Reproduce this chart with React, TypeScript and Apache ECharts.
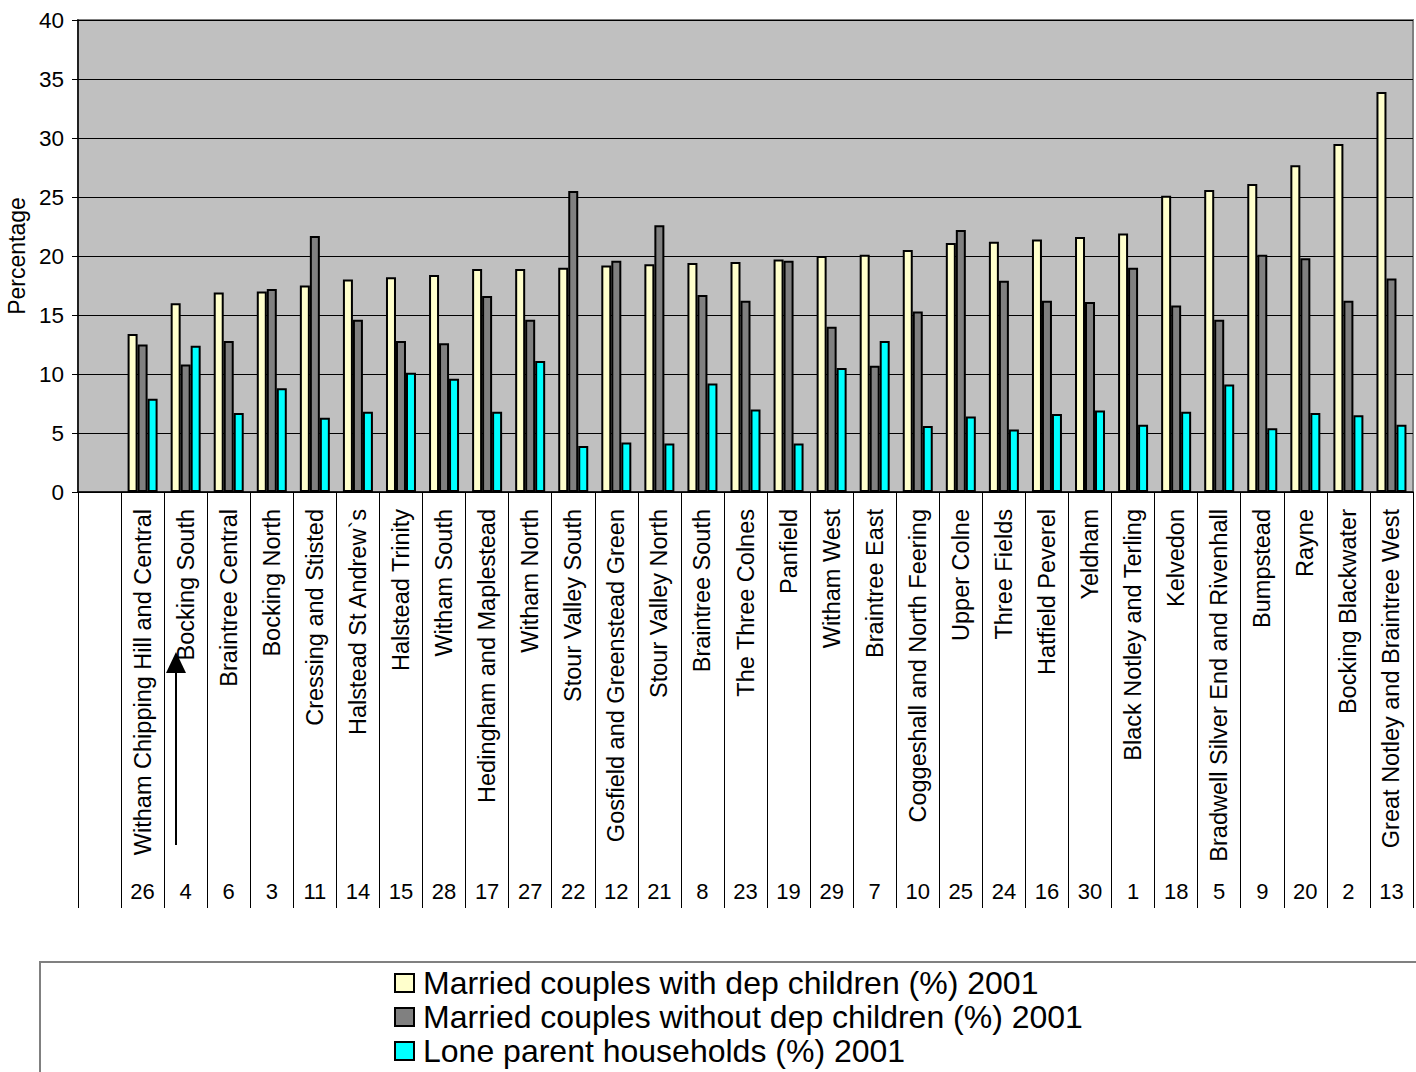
import React, { useEffect, useRef } from "react";
import * as echarts from "echarts";

const wards = [
  "Witham Chipping Hill and Central", "Bocking South", "Braintree Central", "Bocking North",
  "Cressing and Stisted", "Halstead St Andrew`s", "Halstead Trinity", "Witham South",
  "Hedingham and Maplestead", "Witham North", "Stour Valley South", "Gosfield and Greenstead Green",
  "Stour Valley North", "Braintree South", "The Three Colnes", "Panfield", "Witham West",
  "Braintree East", "Coggeshall and North Feering", "Upper Colne", "Three Fields",
  "Hatfield Peverel", "Yeldham", "Black Notley and Terling", "Kelvedon",
  "Bradwell Silver End and Rivenhall", "Bumpstead", "Rayne", "Bocking Blackwater",
  "Great Notley and Braintree West",
];
const wardNumbers = [
  "26", "4", "6", "3", "11", "14", "15", "28", "17", "27", "22", "12", "21", "8", "23",
  "19", "29", "7", "10", "25", "24", "16", "30", "1", "18", "5", "9", "20", "2", "13",
];
const withDepChildren = [
  13.4, 16.0, 16.9, 17.0, 17.5, 18.0, 18.2, 18.4, 18.9, 18.9, 19.0, 19.2, 19.3, 19.4, 19.5,
  19.7, 20.0, 20.1, 20.5, 21.1, 21.2, 21.4, 21.6, 21.9, 25.1, 25.6, 26.1, 27.7, 29.5, 33.9,
];
const withoutDepChildren = [
  12.5, 10.8, 12.8, 17.2, 21.7, 14.6, 12.8, 12.6, 16.6, 14.6, 25.5, 19.6, 22.6, 16.7, 16.2,
  19.6, 14.0, 10.7, 15.3, 22.2, 17.9, 16.2, 16.1, 19.0, 15.8, 14.6, 20.1, 19.8, 16.2, 18.1,
];
const loneParent = [
  7.9, 12.4, 6.7, 8.8, 6.3, 6.8, 10.1, 9.6, 6.8, 11.1, 3.9, 4.2, 4.1, 9.2, 7.0,
  4.1, 10.5, 12.8, 5.6, 6.4, 5.3, 6.6, 6.9, 5.7, 6.8, 9.1, 5.4, 6.7, 6.5, 5.7,
];
const seriesNames = [
  "Married couples with dep children (%) 2001",
  "Married couples without dep children (%) 2001",
  "Lone parent households (%) 2001",
];
const seriesColors = ["#FFFFCC", "#808080", "#00FFFF"];

const FONT = "'Liberation Sans', Arial, sans-serif";

export default function App() {
  const ref = useRef<HTMLDivElement>(null);
  useEffect(() => {
    if (!ref.current) return;
    const chart = echarts.init(ref.current, null, { renderer: "svg" });
    const cats = ["", ...wards];
    const nums = ["", ...wardNumbers];
    const pad = (arr: number[]) => [null, ...arr];
    const dataSets = [withDepChildren, withoutDepChildren, loneParent];
    chart.setOption({
      animation: false,
      backgroundColor: "#ffffff",
      textStyle: { fontFamily: FONT },
      grid: {
        left: 78,
        right: 3,
        top: 20,
        bottom: 580,
        outerBoundsMode: "none",
        containLabel: false,
        show: true,
        backgroundColor: "#C0C0C0",
        borderColor: "#808080",
        borderWidth: 2,
      },
      legend: {
        orient: "vertical",
        left: 394,
        top: 966,
        padding: 0,
        itemGap: 0,
        itemWidth: 19,
        itemHeight: 18,
        icon: "rect",
        itemStyle: { borderColor: "#000", borderWidth: 2 },
        textStyle: {
          fontFamily: FONT,
          fontSize: 32,
          color: "#000",
          lineHeight: 34,
          padding: [0, 0, 0, 4],
        },
        data: seriesNames,
      },
      xAxis: [
        {
          type: "category",
          data: cats,
          position: "bottom",
          axisLine: { lineStyle: { color: "#000", width: 1.5 } },
          axisTick: { show: true, length: 416, lineStyle: { color: "#000", width: 1 } },
          axisLabel: {
            rotate: 90,
            interval: 0,
            margin: 17,
            fontSize: 23.5,
            color: "#000",
            fontFamily: FONT,
          },
          splitLine: { show: false },
        },
        {
          type: "category",
          data: nums,
          position: "bottom",
          offset: 380,
          axisLine: { show: false },
          axisTick: { show: false },
          axisLabel: {
            interval: 0,
            margin: 8,
            fontSize: 22,
            color: "#000",
            fontFamily: FONT,
          },
        },
      ],
      yAxis: {
        type: "value",
        min: 0,
        max: 40,
        interval: 5,
        name: "Percentage",
        nameLocation: "middle",
        nameRotate: 90,
        nameGap: 50,
        nameTextStyle: { fontSize: 23, color: "#000", fontFamily: FONT },
        axisLine: { show: true, lineStyle: { color: "#000", width: 1.5 } },
        axisTick: { show: true, length: 6, lineStyle: { color: "#000" } },
        axisLabel: { fontSize: 22.5, color: "#000", margin: 14, fontFamily: FONT },
        splitLine: { show: true, lineStyle: { color: "#000", width: 1 } },
      },
      series: dataSets.map((d, i) => ({
        name: seriesNames[i],
        type: "bar",
        xAxisIndex: 0,
        data: pad(d),
        barWidth: 10,
        barGap: "0%",
        itemStyle: { color: seriesColors[i], borderColor: "#000", borderWidth: 2 },
      })),
      graphic: [
        {
          type: "rect",
          z: 0,
          shape: { x: 40, y: 962, width: 1420, height: 200 },
          style: { fill: "#ffffff", stroke: "#808080", lineWidth: 2 },
        },
        {
          type: "line",
          z: 10,
          shape: { x1: 176, y1: 845, x2: 176, y2: 670 },
          style: { stroke: "#000", lineWidth: 2 },
        },
        {
          type: "polygon",
          z: 10,
          shape: { points: [[166, 673], [186, 673], [176, 652]] },
          style: { fill: "#000" },
        },
      ],
    });
    return () => chart.dispose();
  }, []);
  return (
    <div
      ref={ref}
      style={{ position: "fixed", left: 0, top: 0, width: 1416, height: 1072 }}
    />
  );
}
